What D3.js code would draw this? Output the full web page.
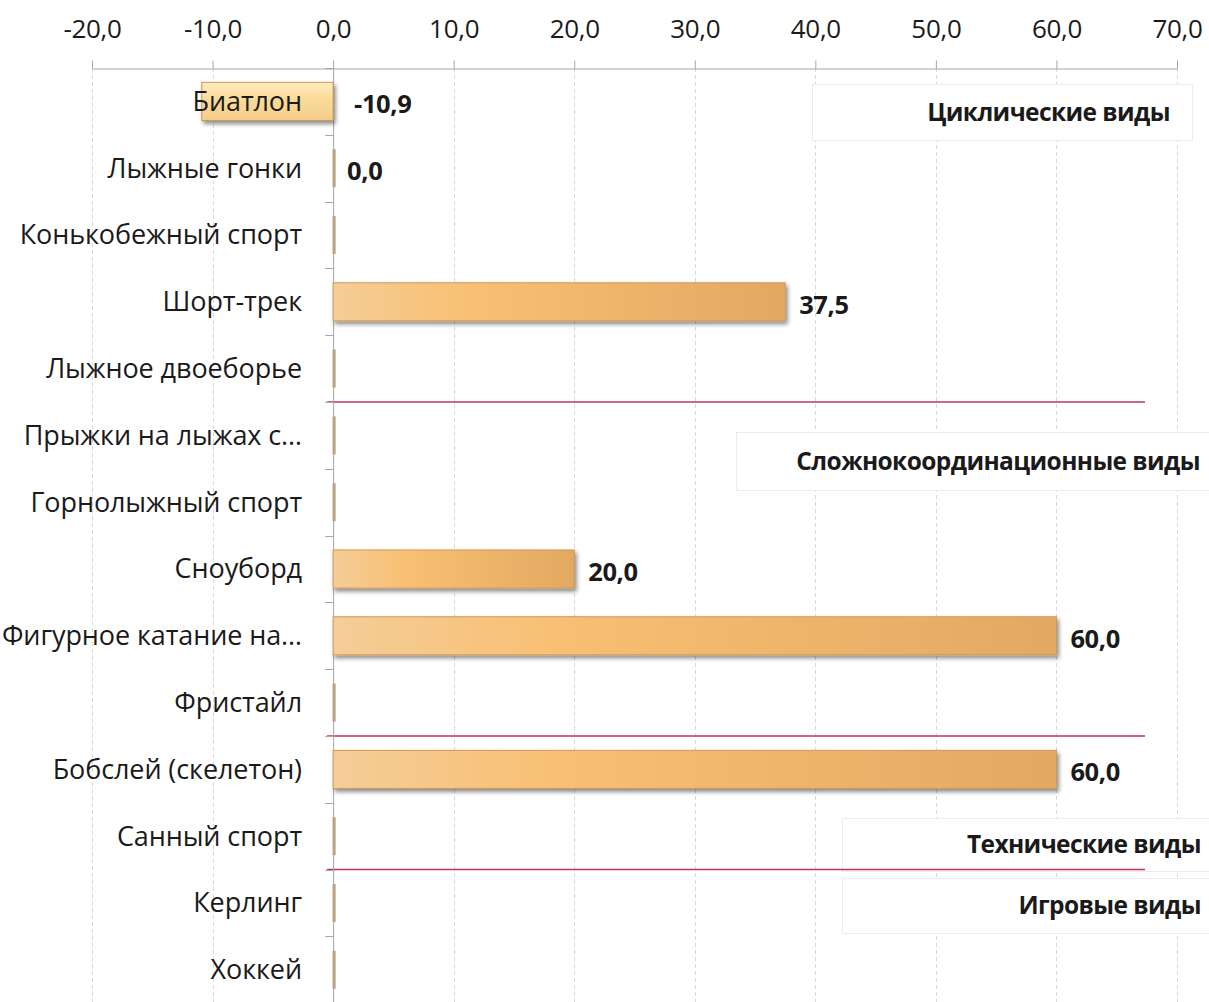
<!DOCTYPE html>
<html>
<head>
<meta charset="utf-8">
<script src="https://cdn.jsdelivr.net/npm/d3@7"></script>
<style>
  body { margin: 0; background: #fff; }
  text { font-family: "Open Sans", sans-serif; fill: #1a1a1a; }
  .cat { font-size: 27px; letter-spacing: -0.1px; }
  .tick text { font-size: 26px; letter-spacing: -0.3px; }
  .val { font-size: 25.5px; font-weight: bold; letter-spacing: -0.4px; }
  .grp { font-size: 24.5px; font-weight: bold; letter-spacing: -0.6px; }
</style>
</head>
<body>
<div id="viz"></div>
<script>
  var categories = ["Биатлон", "Лыжные гонки", "Конькобежный спорт", "Шорт-трек",
    "Лыжное двоеборье", "Прыжки на лыжах с…", "Горнолыжный спорт", "Сноуборд",
    "Фигурное катание на…", "Фристайл", "Бобслей (скелетон)", "Санный спорт",
    "Керлинг", "Хоккей"];
  var values = [-10.9, 0, 0, 37.5, 0, 0, 0, 20, 60, 0, 60, 0, 0, 0];
  // which bars get a value label in the original
  var showLabel = [true, true, false, true, false, false, false, true, true, false, true, false, false, false];
  var tickValues = [-20, -10, 0, 10, 20, 30, 40, 50, 60, 70];
  var groupNames = ["Циклические виды", "Сложнокоординационные виды", "Технические виды", "Игровые виды"];
  var groupEnds = [4, 9, 11]; // separator after these rows

  var W = 1209, H = 1002;
  var fmt = function(d) { return d.toFixed(1).replace(".", ","); };

  var svg = d3.select("#viz").append("svg").attr("width", W).attr("height", H);

  var x = d3.scaleLinear().domain([-20, 70]).range([92, 1177]);
  var y = d3.scaleBand().domain(categories).range([68, 68 + 14 * 66.8])
    .paddingInner(0.43).paddingOuter(0.215);

  var defs = svg.append("defs");
  var g1 = defs.append("linearGradient").attr("id", "pos");
  g1.append("stop").attr("offset", "0%").attr("stop-color", "#f4cd98");
  g1.append("stop").attr("offset", "30%").attr("stop-color", "#f9c073");
  g1.append("stop").attr("offset", "65%").attr("stop-color", "#eeb46a");
  g1.append("stop").attr("offset", "100%").attr("stop-color", "#e3a962");
  var g2 = defs.append("linearGradient").attr("id", "neg").attr("x1", 0).attr("x2", 0).attr("y1", 0).attr("y2", 1);
  g2.append("stop").attr("offset", "0%").attr("stop-color", "#fdecc0");
  g2.append("stop").attr("offset", "40%").attr("stop-color", "#fbdc9c");
  g2.append("stop").attr("offset", "100%").attr("stop-color", "#f4cd88");
  var sh = defs.append("filter").attr("id", "shadow").attr("x", "-5%").attr("y", "-30%").attr("width", "120%").attr("height", "180%");
  sh.append("feDropShadow").attr("dx", 2).attr("dy", 3).attr("stdDeviation", 2)
    .attr("flood-color", "#000").attr("flood-opacity", 0.45);

  // dashed gridlines
  svg.append("g").selectAll("line").data(tickValues.filter(function(d) { return d != 0; }))
    .enter().append("line")
    .attr("x1", function(d) { return Math.round(x(d)) + 0.5; })
    .attr("x2", function(d) { return Math.round(x(d)) + 0.5; })
    .attr("y1", 68).attr("y2", H)
    .attr("stroke", "#d9d9d9").attr("stroke-dasharray", "4,3");

  // top axis
  var ax = svg.append("g").attr("transform", "translate(0,68.5)")
    .call(d3.axisTop(x).tickValues(tickValues).tickFormat(fmt).tickSize(8).tickPadding(23).tickSizeOuter(0));
  ax.selectAll("line, path").attr("stroke", "#a6a6a6");
  ax.selectAll("text").attr("fill", "#1a1a1a");

  // group annotation boxes
  var boxes = [
    {x: 812, y: 84, w: 380, h: 56, tx: 1170},
    {x: 736, y: 432, w: 480, h: 58, tx: 1200},
    {x: 842, y: 818, w: 380, h: 53, tx: 1201},
    {x: 842, y: 878, w: 380, h: 55, tx: 1201}
  ];
  boxes.forEach(function(b, i) {
    svg.append("rect").attr("x", b.x + 0.5).attr("y", b.y + 0.5).attr("width", b.w).attr("height", b.h)
      .attr("fill", "#fff").attr("stroke", "#ececec");
    svg.append("text").attr("class", "grp").attr("x", b.tx).attr("y", b.y + b.h / 2)
      .attr("dy", "0.35em").attr("text-anchor", "end").text(groupNames[i]);
  });

  // separators between groups
  svg.append("g").selectAll("line").data(groupEnds).enter().append("line")
    .attr("x1", 327).attr("x2", 1145)
    .attr("y1", function(i) { return y(categories[i]) + y.bandwidth() + y.step() * y.paddingInner() / 2; })
    .attr("y2", function(i) { return y(categories[i]) + y.bandwidth() + y.step() * y.paddingInner() / 2; })
    .attr("stroke", "#b8375f").attr("stroke-width", 1.5);

  // vertical category axis
  var yAxis = svg.append("g");
  yAxis.append("line").attr("x1", x(0) + 0.5).attr("x2", x(0) + 0.5).attr("y1", 68).attr("y2", H).attr("stroke", "#a6a6a6");
  yAxis.selectAll(".yt").data(categories).enter().append("line")
    .attr("x1", x(0) - 8).attr("x2", x(0))
    .attr("y1", function(d) { return Math.round(y(d) - y.step() * y.paddingInner() / 2) + 0.5; })
    .attr("y2", function(d) { return Math.round(y(d) - y.step() * y.paddingInner() / 2) + 0.5; })
    .attr("stroke", "#a6a6a6");

  // bars
  var data = categories.map(function(c, i) { return {cat: c, v: values[i], show: showLabel[i]}; });
  svg.append("g").selectAll("rect").data(data).enter().append("rect")
    .attr("x", function(d) { return d.v == 0 ? x(0) - 0.5 : x(Math.min(d.v, 0)); })
    .attr("width", function(d) { return d.v == 0 ? 3 : Math.abs(x(d.v) - x(0)); })
    .attr("y", function(d) { return y(d.cat); })
    .attr("height", y.bandwidth())
    .attr("fill", function(d) { return d.v == 0 ? "#bba17c" : (d.v < 0 ? "url(#neg)" : "url(#pos)"); })
    .attr("stroke", function(d) { return d.v == 0 ? "none" : "#cf9a58"; })
    .attr("stroke-width", 1)
    .attr("filter", function(d) { return d.v == 0 ? null : "url(#shadow)"; });

  // value labels
  svg.append("g").selectAll("text").data(data.filter(function(d) { return d.show; })).enter().append("text")
    .attr("class", "val")
    .attr("x", function(d) { return x(Math.max(d.v, 0)) + (d.v < 0 ? 21 : 14); })
    .attr("y", function(d) { return y(d.cat) + y.bandwidth() / 2 + 3; })
    .attr("dy", "0.35em")
    .text(function(d) { return fmt(d.v); });

  // category labels
  svg.append("g").selectAll("text").data(categories).enter().append("text")
    .attr("class", "cat")
    .attr("x", 302).attr("text-anchor", "end")
    .attr("y", function(d) { return y(d) + y.bandwidth() / 2; })
    .attr("dy", "0.35em")
    .text(function(d) { return d; });
</script>
</body>
</html>
